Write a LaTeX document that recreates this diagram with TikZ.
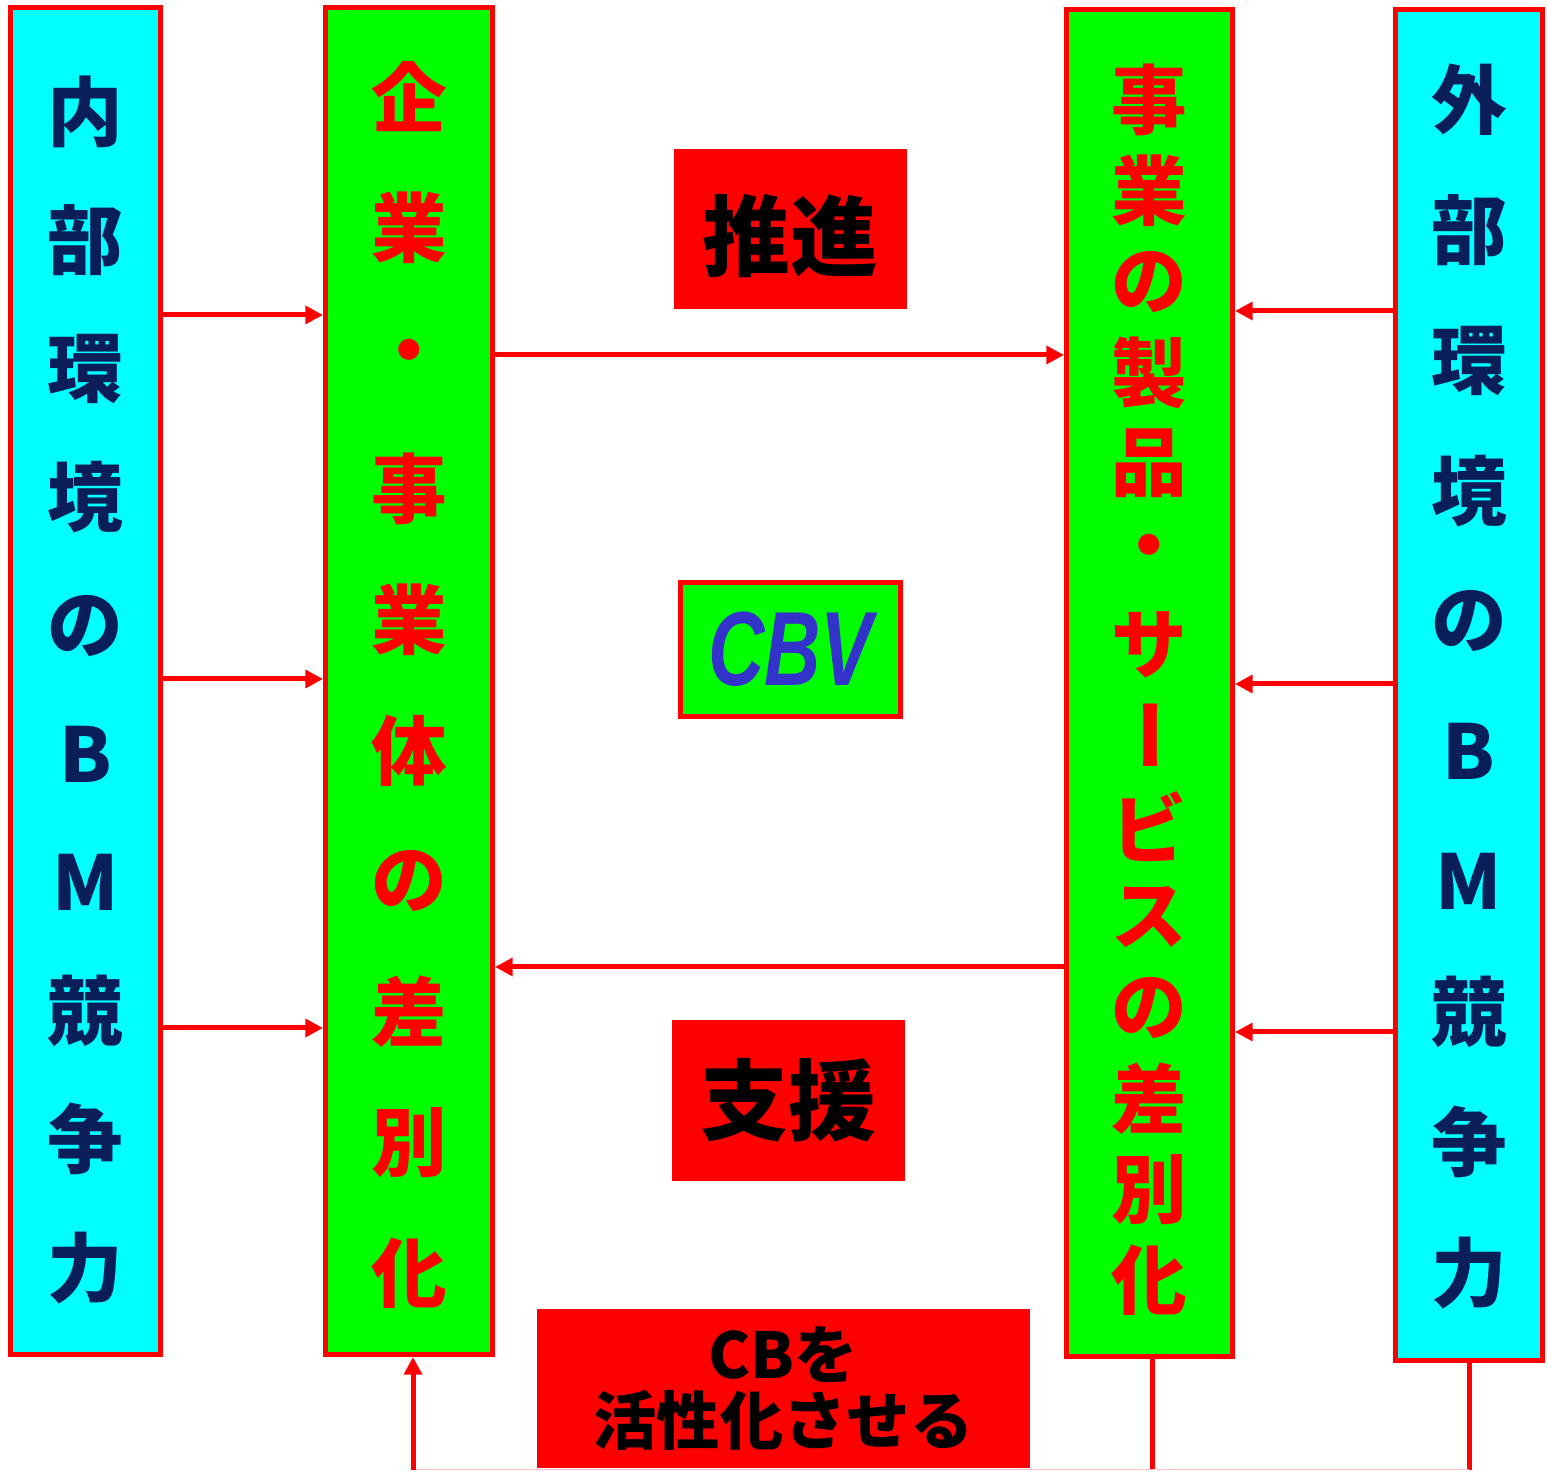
\documentclass[tikz,border=0pt]{standalone}
\usepackage{fontspec}
\newfontfamily\cjk{Noto Sans CJK JP}
\newfontfamily\latin{Liberation Sans}
\usetikzlibrary{arrows.meta}
\definecolor{bmnavy}{RGB}{10,30,90}
\definecolor{cbvblue}{RGB}{51,51,204}
\definecolor{aqua}{RGB}{0,255,255}
\definecolor{lime}{RGB}{0,255,0}

\begin{document}
\begin{tikzpicture}[
    column/.style={draw=red, line width=0.05cm, inner sep=0pt, minimum height=13.47cm},
    tagbox/.style={fill=red, inner sep=0pt, font=\cjk\bfseries\fontsize{25}{25}\selectfont},
    colchar/.style={font=\cjk\bfseries\fontsize{21.5}{21.5}\selectfont, inner sep=0pt},
    flow/.style={red, line width=0.05cm, -{Triangle[length=5pt,width=5pt]}},
    feed/.style={red, line width=0.05cm}
]
    \useasboundingbox (0, 0) rectangle (15.47, 14.72);

    % columns
    \node[column, fill=aqua, minimum width=1.50cm] (inL) at (0.855, 7.91) {};
    \node[column, fill=lime, minimum width=1.67cm] (entL) at (4.09, 7.91) {};
    \node[column, fill=lime, minimum width=1.66cm] (prodR) at (11.495, 7.89) {};
    \node[column, fill=aqua, minimum width=1.47cm, minimum height=13.51cm] (outR) at (14.69, 7.87) {};

    \foreach \ch [count=\i] in {内,部,環,境,の,B,M,競,争,力}
        \node[colchar, text=bmnavy] (inL\i) at (0.855, {(1472-112-128.4*(\i-1))/100}) {\ch};
    \foreach \ch [count=\i] in {企,業,・,事,業,体,の,差,別,化}
        \node[colchar, text=red] (entL\i) at (4.09, {(1472-97-130.7*(\i-1))/100}) {\ch};
    \foreach \ch [count=\i] in {事,業,の,製,品,・,サ,{\kern-0.2cm\rotatebox{-90}{ー}},ビ,ス,の,差,別,化}
        \node[colchar, text=red] (prodR\i) at (11.495, {(1472-100-90.8*(\i-1))/100}) {\ch};
    \foreach \ch [count=\i] in {外,部,環,境,の,B,M,競,争,力}
        \node[colchar, text=bmnavy] (outR\i) at (14.69, {(1472-100-130.3*(\i-1))/100}) {\ch};

    % middle labels
    \node[tagbox, minimum width=2.33cm, minimum height=1.60cm] (push) at (7.905, 12.43) {};
    \node (pushtxt) at ([yshift=-0.07cm]push.center) {\cjk\bfseries\fontsize{25}{25}\selectfont 推進};
    \node[draw=red, line width=0.05cm, fill=lime, inner sep=0pt, minimum width=2.20cm, minimum height=1.34cm] (cbv) at (7.905, 8.225)
        {\latin\bfseries\itshape\fontsize{30}{30}\selectfont\color{cbvblue}\scalebox{0.74}[1]{CBV}};
    \node[tagbox, minimum width=2.33cm, minimum height=1.61cm] (help) at (7.885, 3.715) {支援};
    \node[tagbox, minimum width=4.93cm, minimum height=1.59cm, align=center, font=\cjk\bfseries\fontsize{18}{19}\selectfont] (cbact) at (7.835, 0.835)
        {CBを\\活性化させる};

    % arrows
    \draw[flow] (inL.east |- 0,11.57) -- (entL.west |- 0,11.57);
    \draw[flow] (inL.east |- 0,7.93) -- (entL.west |- 0,7.93);
    \draw[flow] (inL.east |- 0,4.44) -- (entL.west |- 0,4.44);

    \draw[flow] (entL.east |- 0,11.17) -- (prodR.west |- 0,11.17);
    \draw[flow] (prodR.west |- 0,5.05) -- (entL.east |- 0,5.05);

    \draw[flow] (outR.west |- 0,11.61) -- (prodR.east |- 0,11.61);
    \draw[flow] (outR.west |- 0,7.88) -- (prodR.east |- 0,7.88);
    \draw[flow] (outR.west |- 0,4.40) -- (prodR.east |- 0,4.40);

    % feedback
    \coordinate (fbL) at (4.13, 0.02);
    \draw[feed] (outR.south) -- (outR.south |- fbL);
    \draw[feed] ([xshift=0.025cm]prodR.south) -- ([xshift=0.025cm]prodR.south |- fbL);
    \draw[red!25, line width=0.01cm] (outR.south |- fbL) -- (fbL);
    \draw[flow] (fbL) -- (fbL |- entL.south);
\end{tikzpicture}
\end{document}
